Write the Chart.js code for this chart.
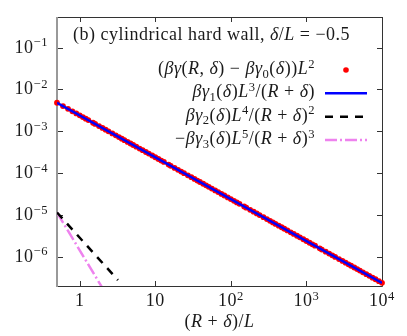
<!DOCTYPE html>
<html lang="en">
<head>
  <meta charset="UTF-8">
  <title>Cylindrical hard wall</title>
  <script src="https://cdn.jsdelivr.net/npm/chart.js"></script>
  <style>
    html, body { margin: 0; padding: 0; background: #fff; }
    #wrap { width: 407px; height: 336px; }
  </style>
</head>
<body>
  <div id="wrap"><canvas id="chart" width="407" height="336"></canvas></div>

  <script>
    // red dots: (beta gamma(R,delta) - beta gamma0(delta)) L^2
    const dotX = [
      0.5, 0.6, 0.7, 0.8, 0.9,
      1, 1.1, 1.2, 1.3, 1.5, 1.6, 1.8, 2, 2.2, 2.4, 2.7, 3, 3.3, 3.6, 3.9, 4.3, 4.7, 5.1, 5.6, 6.2, 6.8, 7.5, 8.2, 9.1,
      10, 11, 12, 13, 15, 16, 18, 20, 22, 24, 27, 30, 33, 36, 39, 43, 47, 51, 56, 62, 68, 75, 82, 91,
      100, 110, 120, 130, 150, 160, 180, 200, 220, 240, 270, 300, 330, 360, 390, 430, 470, 510, 560, 620, 680, 750, 820, 910,
      1000, 1100, 1200, 1300, 1500, 1600, 1800, 2000, 2200, 2400, 2700, 3000, 3300, 3600, 3900, 4300, 4700, 5100, 5600, 6200, 6800, 7500, 8200, 9100,
      10000
    ];
    const dotY = [
      4.8e-3, 4.0e-3, 3.43e-3, 3.0e-3, 2.67e-3,
      2.4e-3, 2.18e-3, 2.0e-3, 1.85e-3, 1.6e-3, 1.5e-3, 1.33e-3, 1.2e-3, 1.09e-3, 1.0e-3, 8.89e-4, 8.0e-4, 7.27e-4, 6.67e-4, 6.15e-4, 5.58e-4, 5.11e-4, 4.71e-4, 4.29e-4, 3.87e-4, 3.53e-4, 3.2e-4, 2.93e-4, 2.64e-4,
      2.4e-4, 2.18e-4, 2.0e-4, 1.85e-4, 1.6e-4, 1.5e-4, 1.33e-4, 1.2e-4, 1.09e-4, 1.0e-4, 8.89e-5, 8.0e-5, 7.27e-5, 6.67e-5, 6.15e-5, 5.58e-5, 5.11e-5, 4.71e-5, 4.29e-5, 3.87e-5, 3.53e-5, 3.2e-5, 2.93e-5, 2.64e-5,
      2.4e-5, 2.18e-5, 2.0e-5, 1.85e-5, 1.6e-5, 1.5e-5, 1.33e-5, 1.2e-5, 1.09e-5, 1.0e-5, 8.89e-6, 8.0e-6, 7.27e-6, 6.67e-6, 6.15e-6, 5.58e-6, 5.11e-6, 4.71e-6, 4.29e-6, 3.87e-6, 3.53e-6, 3.2e-6, 2.93e-6, 2.64e-6,
      2.4e-6, 2.18e-6, 2.0e-6, 1.85e-6, 1.6e-6, 1.5e-6, 1.33e-6, 1.2e-6, 1.09e-6, 1.0e-6, 8.89e-7, 8.0e-7, 7.27e-7, 6.67e-7, 6.15e-7, 5.58e-7, 5.11e-7, 4.71e-7, 4.29e-7, 3.87e-7, 3.53e-7, 3.2e-7, 2.93e-7, 2.64e-7,
      2.4e-7
    ];

    // asymptotic terms (straight lines on log-log axes, endpoints only)
    const gamma1X = [0.5, 10000];
    const gamma1Y = [4.8e-3, 2.4e-7];
    const gamma2X = [0.5, 3.2];
    const gamma2Y = [1.15e-5, 2.8e-7];
    const gamma3X = [0.5, 2.2];
    const gamma3Y = [1.15e-5, 1.35e-7];

    const xTickVals = [1, 10, 100, 1000, 10000];
    const xTickLabels = ['1', '10', '10^2', '10^3', '10^4'];
    const yTickVals = [1e-6, 1e-5, 1e-4, 1e-3, 1e-2, 1e-1];
    const yTickLabels = ['10^{−6}', '10^{−5}', '10^{−4}', '10^{−3}', '10^{−2}', '10^{−1}'];

    // '*' toggles italic, '^' / '_' raise / lower the next char or {group}
    const titleText = '(b) cylindrical hard wall, *δ*/*L* = −0.5';
    const xTitle = '(*R* + *δ*)/*L*';
    const legendLabels = [
      '(*βγ*(*R*, *δ*) − *βγ*_0(*δ*))*L*^2',
      '*βγ*_1(*δ*)*L*^3/(*R* + *δ*)',
      '*βγ*_2(*δ*)*L*^4/(*R* + *δ*)^2',
      '−*βγ*_3(*δ*)*L*^5/(*R* + *δ*)^3'
    ];

    const FONT = 18;
    const TEXT = '#1a1a1a';
    const pts = (xs, ys) => xs.map((x, i) => ({ x, y: ys[i] }));

    function parse(s) {
      const runs = [];
      let it = false, i = 0;
      let cur = { t: '', it, v: 0 };
      const push = () => { if (cur.t) runs.push(cur); };
      while (i < s.length) {
        const c = s[i];
        if (c === '*') {
          push(); it = !it; cur = { t: '', it, v: 0 }; i++;
        } else if (c === '^' || c === '_') {
          push();
          let t;
          if (s[i + 1] === '{') { const j = s.indexOf('}', i); t = s.slice(i + 2, j); i = j + 1; }
          else { t = s[i + 1]; i += 2; }
          runs.push({ t, it: false, v: c === '^' ? 1 : -1 });
          cur = { t: '', it, v: 0 };
        } else {
          cur.t += c; i++;
        }
      }
      push();
      return runs;
    }

    function fontFor(r, size) {
      const sz = r.v ? size * 0.7 : size;
      return (r.it ? 'italic ' : '') + sz + 'px "Liberation Serif", serif';
    }

    function drawRich(ctx, s, x, y, align, size) {
      const runs = parse(s);
      ctx.letterSpacing = '0.5px';
      let w = 0;
      runs.forEach(r => { ctx.font = fontFor(r, size); r.w = ctx.measureText(r.t).width; w += r.w; });
      let cx = align === 'right' ? x - w : align === 'center' ? x - w / 2 : x;
      ctx.textAlign = 'left';
      ctx.textBaseline = 'alphabetic';
      ctx.fillStyle = TEXT;
      runs.forEach(r => {
        ctx.font = fontFor(r, size);
        const dy = r.v > 0 ? -0.36 * size : r.v < 0 ? 0.2 * size : 0;
        ctx.fillText(r.t, cx, y + dy);
        cx += r.w;
      });
      ctx.letterSpacing = '0px';
    }

    const frame = {
      id: 'frame',
      beforeDatasetsDraw(chart) {
        const { ctx, chartArea: a, scales: { x, y } } = chart;
        ctx.save();
        ctx.strokeStyle = '#333';
        ctx.lineWidth = 1;
        ctx.beginPath();
        ctx.moveTo(a.left, a.top + 0.5); ctx.lineTo(a.right + 0.5, a.top + 0.5);
        ctx.lineTo(a.right + 0.5, a.bottom + 0.5); ctx.lineTo(a.left, a.bottom + 0.5);
        // inward ticks on all four sides
        xTickVals.forEach(v => {
          const px = Math.round(x.getPixelForValue(v)) + 0.5;
          ctx.moveTo(px, a.bottom); ctx.lineTo(px, a.bottom - 5);
          ctx.moveTo(px, a.top); ctx.lineTo(px, a.top + 5);
        });
        yTickVals.forEach(v => {
          const py = Math.round(y.getPixelForValue(v)) + 0.5;
          ctx.moveTo(a.left, py); ctx.lineTo(a.left + 6, py);
          ctx.moveTo(a.right, py); ctx.lineTo(a.right - 5, py);
        });
        ctx.stroke();
        ctx.strokeStyle = '#999';
        ctx.lineWidth = 2;
        ctx.beginPath();
        ctx.moveTo(a.left, a.top); ctx.lineTo(a.left, a.bottom + 1);
        ctx.stroke();
        ctx.restore();
      },
      afterDraw(chart) {
        const { ctx, chartArea: a, scales: { x, y } } = chart;
        ctx.save();
        xTickVals.forEach((v, i) => drawRich(ctx, xTickLabels[i], x.getPixelForValue(v), 306, 'center', FONT));
        yTickVals.forEach((v, i) => drawRich(ctx, yTickLabels[i], 48, y.getPixelForValue(v) + 5, 'right', FONT));
        drawRich(ctx, xTitle, (a.left + a.right) / 2, 327, 'center', FONT);
        drawRich(ctx, titleText, 73, 40, 'left', FONT);

        // legend: label on the left, sample on the right
        const rows = [74, 97.3, 120.7, 144];
        legendLabels.forEach((s, i) => drawRich(ctx, s, 315, rows[i], 'right', FONT));
        const sy = rows.map(r => r - 4);
        ctx.fillStyle = '#ff0000';
        ctx.beginPath(); ctx.arc(346, sy[0], 2.8, 0, Math.PI * 2); ctx.fill();
        ctx.lineWidth = 2.5;
        ctx.strokeStyle = '#0000ff';
        ctx.beginPath(); ctx.moveTo(325, sy[1]); ctx.lineTo(367, sy[1]); ctx.stroke();
        ctx.strokeStyle = '#000';
        ctx.setLineDash([8, 7]);
        ctx.beginPath(); ctx.moveTo(325, sy[2]); ctx.lineTo(367, sy[2]); ctx.stroke();
        ctx.strokeStyle = '#ee82ee';
        ctx.setLineDash([12, 3, 2, 3]);
        ctx.beginPath(); ctx.moveTo(325, sy[3]); ctx.lineTo(367, sy[3]); ctx.stroke();
        ctx.restore();
      }
    };

    new Chart(document.querySelector('#chart'), {
      type: 'scatter',
      data: {
        datasets: [
          {
            label: 'gamma1',
            data: pts(gamma1X, gamma1Y),
            showLine: true,
            borderColor: '#0000ff',
            borderWidth: 2.5,
            pointRadius: 0
          },
          {
            label: 'full',
            data: pts(dotX, dotY),
            backgroundColor: '#ff0000',
            borderWidth: 0,
            pointRadius: 2.9,
            clip: false
          },
          {
            label: 'gamma2',
            data: pts(gamma2X, gamma2Y),
            showLine: true,
            borderColor: '#000',
            borderWidth: 2.5,
            borderDash: [8, 7],
            pointRadius: 0
          },
          {
            label: 'gamma3',
            data: pts(gamma3X, gamma3Y),
            showLine: true,
            borderColor: '#ee82ee',
            borderWidth: 2.5,
            borderDash: [12, 3, 2, 3],
            pointRadius: 0
          }
        ]
      },
      options: {
        responsive: false,
        animation: false,
        layout: { padding: { left: 57, right: 25, top: 17, bottom: 50 } },
        scales: {
          x: { type: 'logarithmic', min: 0.5, max: 10000, display: false },
          y: { type: 'logarithmic', min: 2.02e-7, max: 0.536, display: false }
        },
        plugins: {
          legend: { display: false },
          tooltip: { enabled: false }
        }
      },
      plugins: [frame]
    });
  </script>
</body>
</html>
